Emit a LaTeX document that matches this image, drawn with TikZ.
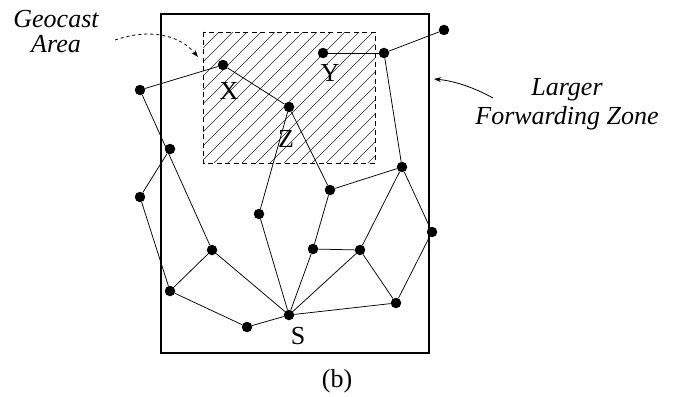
\documentclass[tikz,border=0pt]{standalone}
\usepackage{fontspec}
\setmainfont{Liberation Serif}
\usetikzlibrary{arrows.meta}

\begin{document}
\begin{tikzpicture}[x=1pt, y=-1pt,
    peer/.style={circle, fill=black, inner sep=0pt, minimum size=10.5pt},
    link/.style={line width=0.75pt},
    tag/.style={font=\fontsize{26}{30}\selectfont},
    note/.style={font=\fontsize{26}{29}\selectfont\itshape, align=center}]
  \useasboundingbox (0,0) rectangle (676,396);

  % geocast area (hatched)
  \begin{scope}
    \clip (203,32) rectangle (375,163);
    \foreach \k in {60,74,...,390}
      \draw[line width=0.6pt, black!85] (\k,163) -- (\k+131,32);
  \end{scope}
  \draw[dashed, line width=0.8pt, dash pattern=on 5pt off 3.5pt] (203,32) rectangle (375,163);

  % forwarding zone
  \draw[line width=2.2pt] (161,14) rectangle (429,353);

  \node[peer] (A) at (140,90) {};
  \node[peer] (X) at (223,65) {};
  \node[peer] (Y) at (323,53) {};
  \node[peer] (B) at (384,53) {};
  \node[peer] (C) at (444,30) {};
  \node[peer] (Z) at (289,107) {};
  \node[peer] (D) at (170,149) {};
  \node[peer] (E) at (140,197) {};
  \node[peer] (F) at (330,190) {};
  \node[peer] (G) at (402,167) {};
  \node[peer] (H) at (432,232) {};
  \node[peer] (I) at (259,214) {};
  \node[peer] (J) at (212,250) {};
  \node[peer] (K) at (313,249) {};
  \node[peer] (L) at (360,250) {};
  \node[peer] (M) at (170,291) {};
  \node[peer] (S) at (289,315) {};
  \node[peer] (N) at (247,327) {};
  \node[peer] (O) at (396,303) {};

  \node[tag] (xl) at (229,91) {X};
  \node[tag] (yl) at (330,73) {Y};
  \node[tag] (zl) at (286,139) {Z};
  \node[tag] (sl) at (298,336) {S};
  \node[tag] (cap) at (337,381) {(b)};

  \draw[link] (A) -- (X);
  \draw[link] (X) -- (Z);
  \draw[link] (A) -- (J);
  \draw[link] (D) -- (E);
  \draw[link] (E) -- (M);
  \draw[link] (J) -- (M);
  \draw[link] (J) -- (S);
  \draw[link] (M) -- (N);
  \draw[link] (N) -- (S);
  \draw[link] (I) -- (S);
  \draw[link] (I) -- (Z);
  \draw[link] (Z) -- (F);
  \draw[link] (F) -- (G);
  \draw[link] (F) -- (K);
  \draw[link] (K) -- (L);
  \draw[link] (K) -- (S);
  \draw[link] (L) -- (S);
  \draw[link] (L) -- (G);
  \draw[link] (L) -- (O);
  \draw[link] (O) -- (S);
  \draw[link] (O) -- (H);
  \draw[link] (H) -- (G);
  \draw[link] (G) -- (B);
  \draw[link] (B) -- (Y);
  \draw[link] (B) -- (C);

  \node[note] (geo) at (56,32) {Geocast\\[-4pt]Area};
  \node[note] (lfz) at (567,104) {Larger\\Forwarding Zone};

  \coordinate (geotip) at (198,57);
  \coordinate (lfztip) at (434,79);
  \draw[dashed, line width=0.8pt, -{Stealth[length=7pt,width=5pt]}]
    (115,40) .. controls (150,28) and (180,35) .. (geotip);
  \draw[line width=0.8pt, -{Stealth[length=7pt,width=5pt]}]
    (493,98) .. controls (475,88) and (455,81) .. (lfztip);
\end{tikzpicture}
\end{document}
